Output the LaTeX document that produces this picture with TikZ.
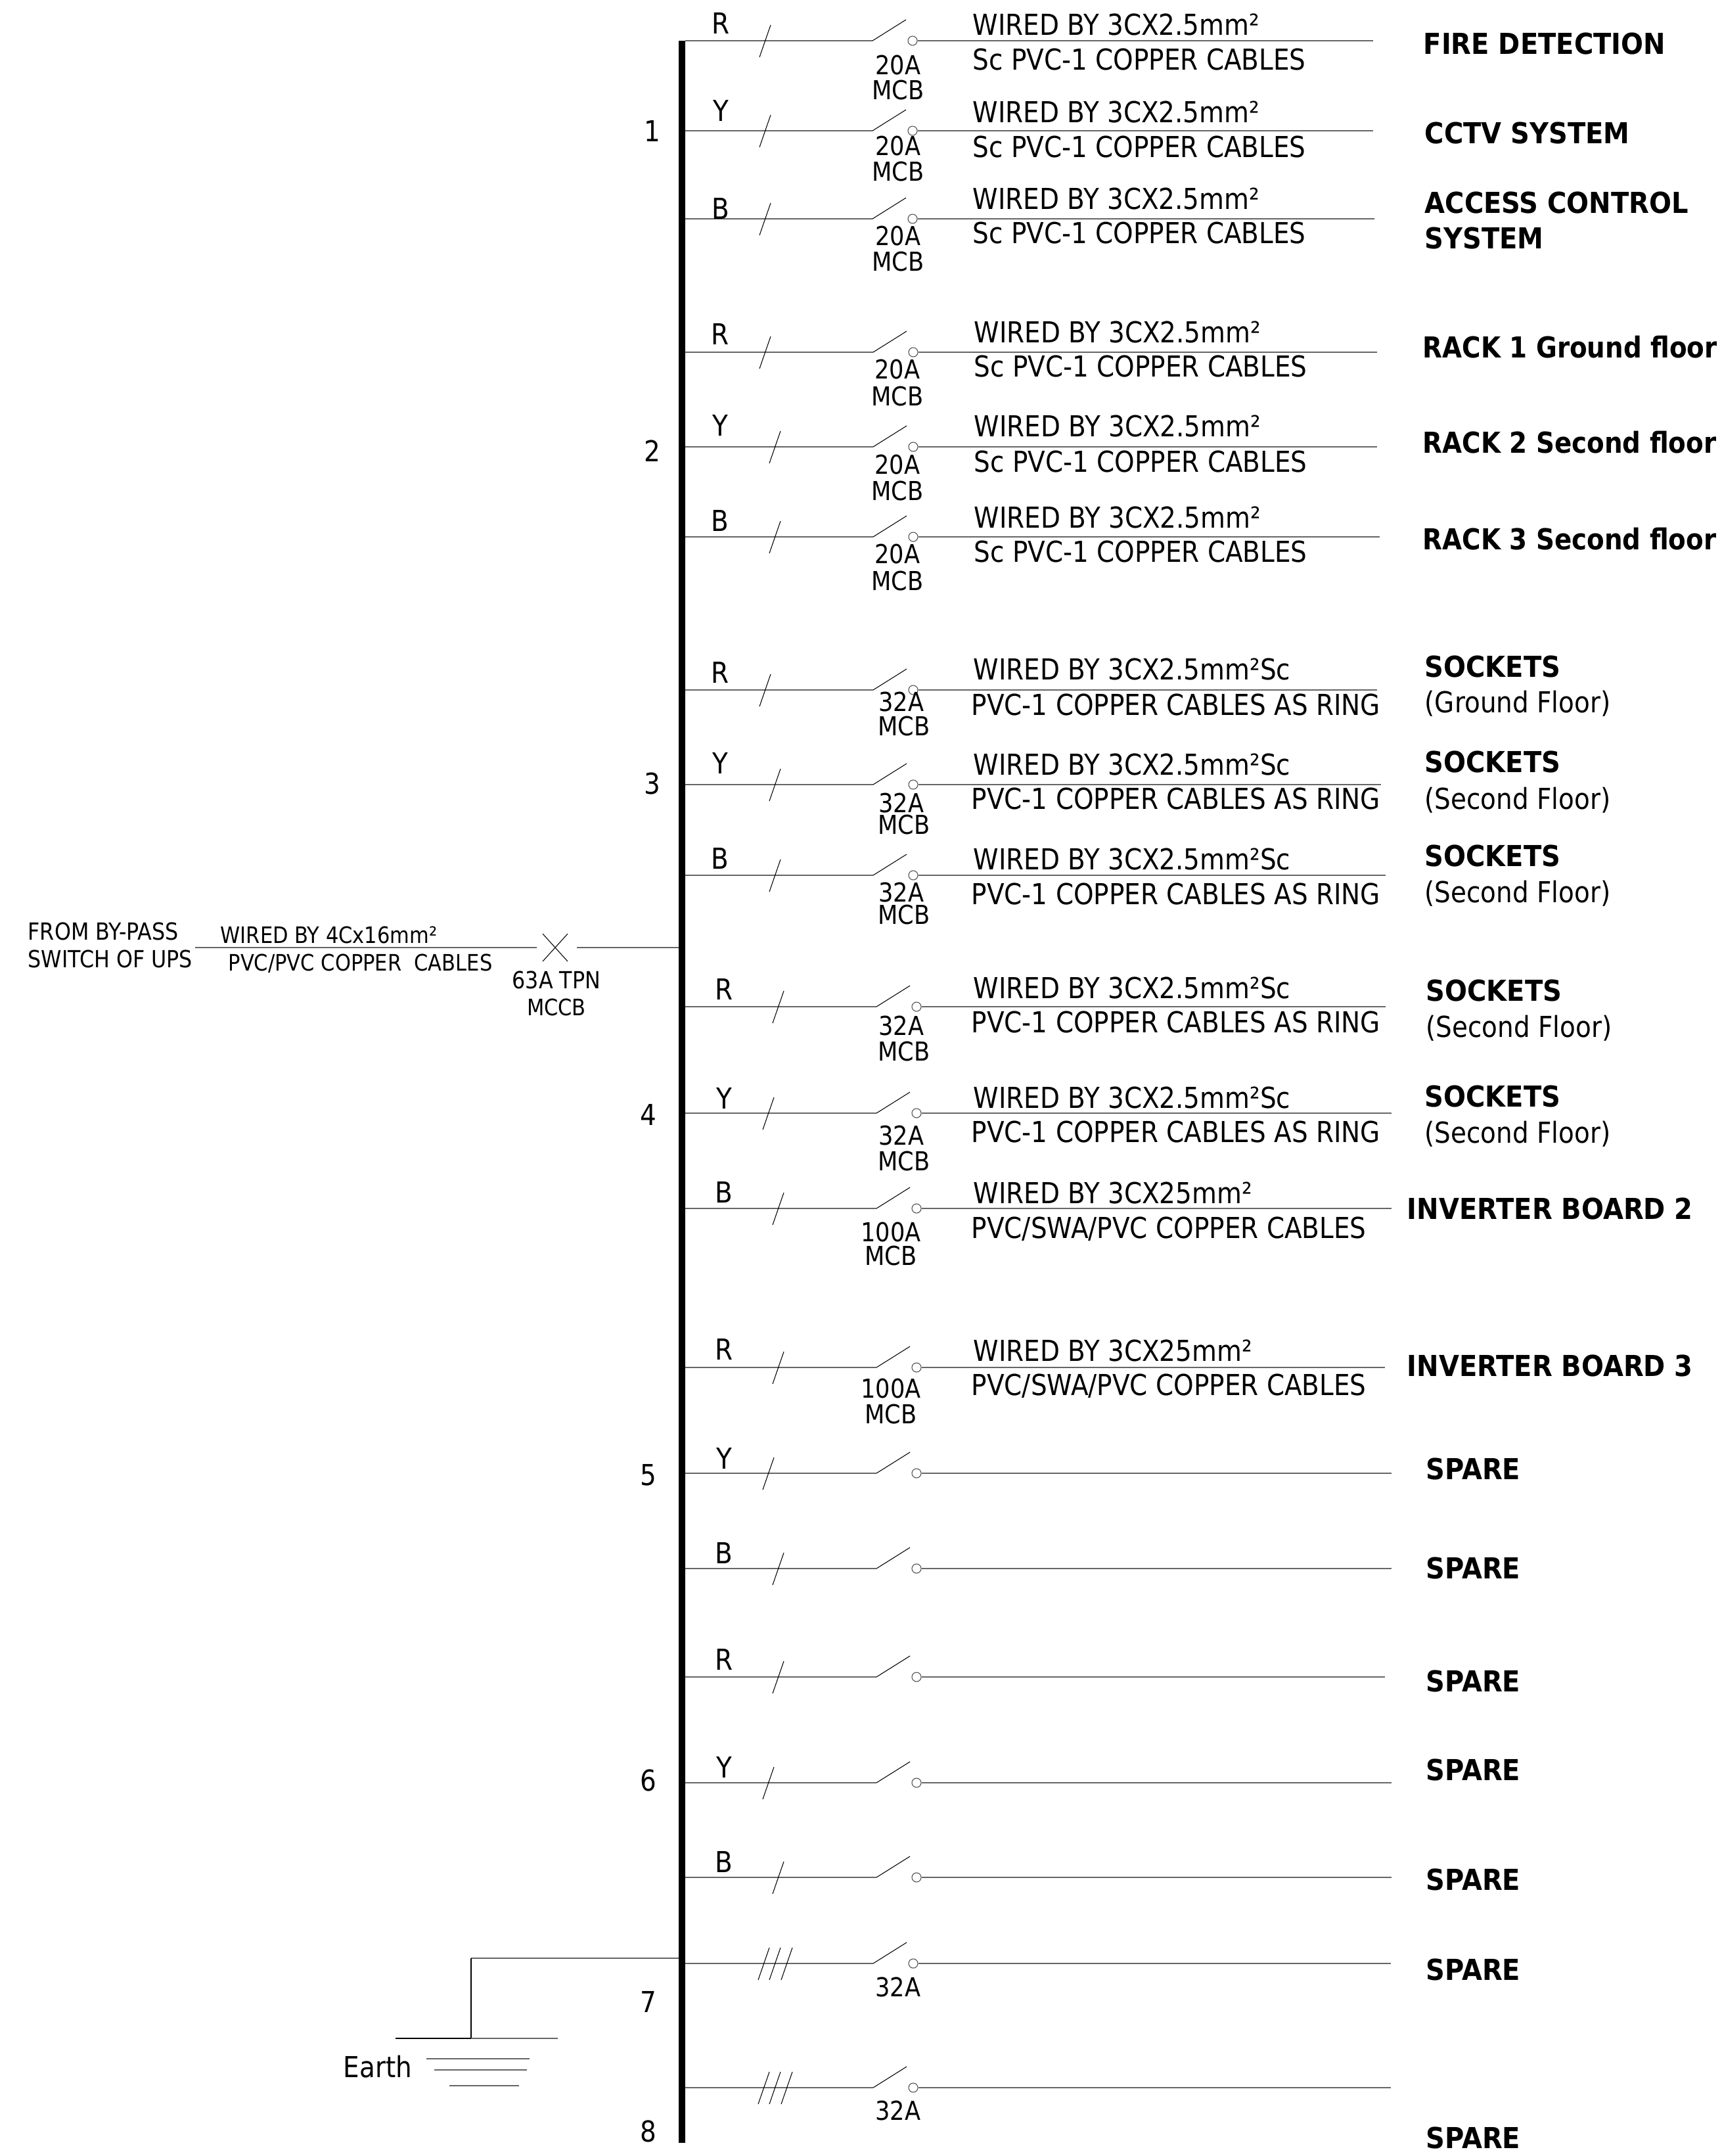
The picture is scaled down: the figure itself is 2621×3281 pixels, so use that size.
\documentclass[tikz,border=0pt]{standalone}
\usepackage{fontspec}
\setmainfont{DejaVu Sans}[FakeStretch=0.885,BoldFeatures={FakeStretch=0.91}]
\tikzset{
  wire/.style={line width=0.6pt,black!60},
  thinwire/.style={line width=0.3pt,black},
  contact/.style={circle,draw=black!70,line width=0.3pt,inner sep=0pt,minimum size=0.14cm},
  bigtext/.style={inner sep=0pt,text height=0.32cm,text depth=0pt,font=\fontsize{12.5}{15}\selectfont},
  wiretext/.style={bigtext,anchor=west},
  loadtext/.style={wiretext,font=\fontsize{12.5}{15}\selectfont\bfseries},
  ratetext/.style={inner sep=0pt,text height=0.29cm,text depth=0pt,font=\fontsize{11.3}{14}\selectfont},
  smalltext/.style={inner sep=0pt,text height=0.25cm,text depth=0pt,font=\fontsize{9.8}{12}\selectfont},
  fromtext/.style={smalltext,font=\fontsize{10.2}{12}\selectfont}
}
\begin{document}
\begin{tikzpicture}[x=0.01cm,y=-0.01cm]
	\useasboundingbox (0,0) rectangle (2621,3281);
	\draw[line width=10*0.2845pt] (1038,62) coordinate (bustop) -- (1038,3261) coordinate (busend);

	\foreach \n/\y/\tk/\sw/\e in
		{1/62/1173/1328/2090,2/199/1173/1328/2090,3/333/1173/1328/2092,
		4/536/1173/1329/2096,5/680/1188/1329/2096,6/817/1188/1329/2100,
		7/1050/1173/1329/2096,8/1194/1188/1329/2102,9/1332/1188/1329/2109,
		10/1532/1193/1334/2109,11/1694/1178/1334/2118,12/1839/1193/1334/2118,
		13/2081/1193/1334/2108,14/2242/1178/1334/2118,15/2387/1193/1334/2118,
		16/2552/1193/1334/2108,17/2713/1178/1334/2118,18/2857/1193/1334/2118,
		19/2988/1188/1329/2117,20/3177/1188/1329/2117}
	{
		\coordinate (t\n) at (1043,\y);
		\coordinate (a\n) at (\sw,\y);
		\coordinate (b\n) at (\sw+51,\y-32);
		\node[contact] (c\n) at (\sw+61,\y) {};
		\coordinate (e\n) at (\e,\y);
		\draw[wire] (t\n) -- (a\n);
		\draw[thinwire] (a\n) -- (b\n);
		\draw[wire] (c\n) -- (e\n);
		\draw[thinwire] (\tk,\y-24) -- (\tk-17,\y+25);
	}
	\foreach \n/\y in {19/2988,20/3177}
		\foreach \d in {-17,18}
			\draw[thinwire] (1188+\d,\y-24) -- (1171+\d,\y+25);

	\foreach \n/\x/\y/\ph in
		{1/1097/35/R,2/1097/168/Y,3/1097/317/B,4/1096/508/R,5/1096/647/Y,6/1096/792/B,
		7/1096/1023/R,8/1096/1161/Y,9/1096/1306/B,10/1102/1505/R,11/1102/1671/Y,12/1102/1814/B,
		13/1102/2053/R,14/1102/2219/Y,15/1102/2363/B,16/1102/2525/R,17/1102/2689/Y,18/1102/2833/B}
		\node[bigtext] (ph\n) at (\x,\y) {\ph};

	\foreach \n/\x/\y in
		{1/993/199,2/993/686,3/993/1192,4/987/1696,5/987/2244,6/987/2709,7/987/3046,8/987/3243}
		\node[bigtext] (num\n) at (\x,\y) {\n};

	\foreach \n/\xa/\ya/\ra/\xb/\yb in
		{1/1367/99/20A/1367/137,2/1367/222/20A/1367/261,3/1367/359/20A/1367/398,
		4/1366/562/20A/1366/603,5/1366/707/20A/1366/747,6/1366/843/20A/1366/884,
		7/1372/1068/32A/1376/1105,8/1372/1222/32A/1376/1255,9/1372/1358/32A/1376/1392,
		10/1372/1561/32A/1376/1600,11/1372/1728/32A/1376/1767,
		12/1356/1875/100A/1356/1911,13/1356/2113/100A/1356/2152}
	{
		\node[ratetext] (ra\n) at (\xa,\ya) {\ra};
		\node[ratetext] (mcb\n) at (\xb,\yb) {MCB};
	}
	\node[ratetext] (ra19) at (1367,3024) {32A};
	\node[ratetext] (ra20) at (1367,3212) {32A};

	\foreach \n/\xa/\ya/\ta/\xb/\yb/\tb in
		{1/1480/37/WIRED BY 3CX2.5mm²/1480/90/Sc PVC-1 COPPER CABLES,
		2/1480/170/WIRED BY 3CX2.5mm²/1480/223/Sc PVC-1 COPPER CABLES,
		3/1480/302/WIRED BY 3CX2.5mm²/1480/354/Sc PVC-1 COPPER CABLES,
		4/1482/505/WIRED BY 3CX2.5mm²/1482/557/Sc PVC-1 COPPER CABLES,
		5/1482/648/WIRED BY 3CX2.5mm²/1482/702/Sc PVC-1 COPPER CABLES,
		6/1482/787/WIRED BY 3CX2.5mm²/1482/839/Sc PVC-1 COPPER CABLES,
		7/1481/1018/WIRED BY 3CX2.5mm²Sc/1478/1072/PVC-1 COPPER CABLES AS RING,
		8/1481/1163/WIRED BY 3CX2.5mm²Sc/1478/1215/PVC-1 COPPER CABLES AS RING,
		9/1481/1307/WIRED BY 3CX2.5mm²Sc/1478/1360/PVC-1 COPPER CABLES AS RING,
		10/1481/1503/WIRED BY 3CX2.5mm²Sc/1478/1555/PVC-1 COPPER CABLES AS RING,
		11/1481/1670/WIRED BY 3CX2.5mm²Sc/1478/1722/PVC-1 COPPER CABLES AS RING,
		12/1481/1815/WIRED BY 3CX25mm²/1478/1868/{PVC/SWA/PVC COPPER CABLES},
		13/1481/2055/WIRED BY 3CX25mm²/1478/2107/{PVC/SWA/PVC COPPER CABLES}}
	{
		\node[wiretext] (upper\n) at (\xa,\ya) {\ta};
		\node[wiretext] (lower\n) at (\xb,\yb) {\tb};
	}

	\foreach \n/\x/\y/\ttext in
		{1/2166/66/FIRE DETECTION,2/2168/202/CCTV SYSTEM,3/2168/308/ACCESS CONTROL,3b/2168/362/SYSTEM,
		7/2168/1014/SOCKETS,8/2168/1159/SOCKETS,9/2168/1302/SOCKETS,10/2170/1507/SOCKETS,11/2168/1668/SOCKETS,
		12/2141/1839/INVERTER BOARD 2,13/2141/2078/INVERTER BOARD 3,
		14/2170/2235/SPARE,15/2170/2386/SPARE,16/2170/2558/SPARE,17/2170/2693/SPARE,
		18/2170/2860/SPARE,19/2170/2997/SPARE,20/2170/3253/SPARE}
		\node[loadtext] (load\n) at (\x,\y) {\ttext};
	\foreach \n/\y/\ttext in
		{4/528/RACK 1 Ground floor,5/673/RACK 2 Second floor,6/820/RACK 3 Second floor}
		\node[loadtext] (load\n) at (2165,\y) {\scalebox{0.97}[1]{\ttext}};
	\foreach \n/\x/\y/\ttext in
		{7/2168/1068/(Ground Floor),8/2168/1215/(Second Floor),9/2168/1357/(Second Floor),
		10/2170/1562/(Second Floor),11/2168/1723/(Second Floor)}
		\node[wiretext] (floor\n) at (\x,\y) {\ttext};

	\coordinate (feed) at (297,1442);
	\coordinate (mccbl) at (817,1442);
	\coordinate (mccbr) at (878,1442);
	\coordinate (bustap) at (1033,1442);
	\draw[wire] (feed) -- (mccbl);
	\draw[wire] (mccbr) -- (bustap);
	\draw[thinwire] (826,1421) -- (864,1463);
	\draw[thinwire] (864,1421) -- (826,1463);
	\node[fromtext,anchor=west] (from) at (42,1418) {FROM BY-PASS};
	\node[fromtext,anchor=west] (switch) at (42,1460) {SWITCH OF UPS};
	\node[smalltext,anchor=west] (cableup) at (335,1423) {WIRED BY 4Cx16mm²};
	\node[smalltext,anchor=west] (cablelow) at (347,1465) {PVC/PVC COPPER\ \ CABLES};
	\node[fromtext] (tpn) at (847,1492) {63A TPN};
	\node[smalltext] (mccb) at (847,1533) {MCCB};

	\coordinate (eartha) at (1033,2980);
	\coordinate (earthb) at (717,2980);
	\coordinate (earthc) at (717,3102);
	\coordinate (earthl) at (602,3102);
	\coordinate (earthr) at (849,3102);
	\draw[wire] (eartha) -- (earthb);
	\draw[thinwire] (earthb) -- (earthc);
	\draw[wire,black] (earthl) -- (earthc);
	\draw[wire] (earthc) -- (earthr);
	\draw[wire] (649,3133) -- (806,3133);
	\draw[wire] (661,3150) -- (802,3150);
	\draw[wire] (684,3174) -- (790,3174);
	\node[bigtext,text height=0.3cm] (earth) at (575,3146) {Earth};
\end{tikzpicture}
\end{document}
